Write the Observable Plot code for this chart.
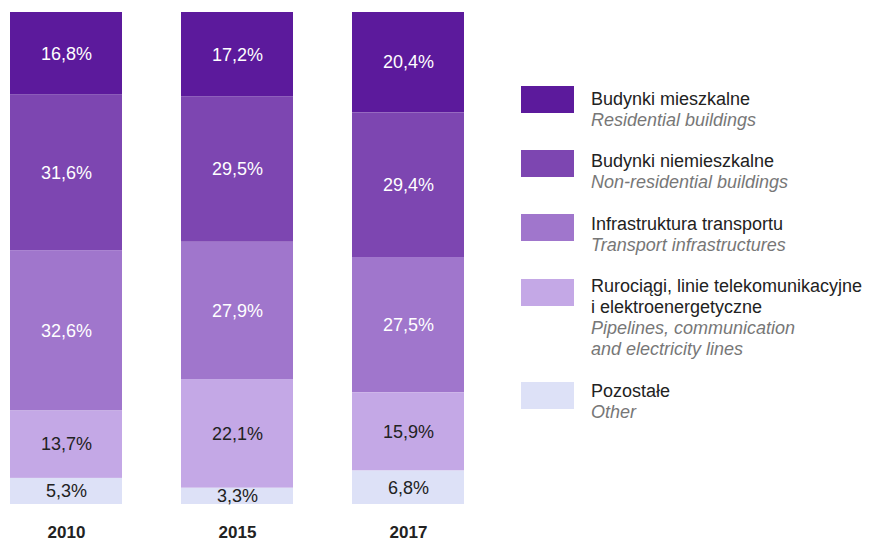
<!DOCTYPE html>
<html>
<head>
<meta charset="utf-8">
<script src="https://cdn.jsdelivr.net/npm/d3@7"></script>
<script src="https://cdn.jsdelivr.net/npm/@observablehq/plot@0.6"></script>
<style>
  html, body { margin: 0; padding: 0; background: #fff; }
  body { width: 875px; height: 542px; position: relative; overflow: hidden; font-family: "Liberation Sans", Arial, sans-serif; }
  #chart { position: absolute; left: 0; top: 0; }
  .sw { position: absolute; left: 521px; width: 53px; height: 27px; }
  .txt { position: absolute; left: 591px; font-size: 18px; line-height: 21px; color: #222; white-space: nowrap; }
  .txt .en { font-style: italic; color: #777; }
</style>
</head>
<body>
<div id="chart"></div>
<div id="legend"></div>
<script>
const years = ["2010", "2015", "2017"];
const categories = ["Budynki mieszkalne", "Budynki niemieszkalne", "Infrastruktura transportu", "Rurociągi, linie telekomunikacyjne\ni elektroenergetyczne", "Pozostałe"];
const categoriesEn = ["Residential buildings", "Non-residential buildings", "Transport infrastructures", "Pipelines, communication\nand electricity lines", "Other"];
const colors = ["#5c1a9c", "#7d46b1", "#a076cc", "#c4a8e6", "#dde1f7"];
const labelColors = ["#ffffff", "#ffffff", "#ffffff", "#222222", "#222222"];

const residential    = [16.8, 17.2, 20.4];
const nonResidential = [31.6, 29.5, 29.4];
const transport      = [32.6, 27.9, 27.5];
const pipelines      = [13.7, 22.1, 15.9];
const other          = [5.3, 3.3, 6.8];
const series = [residential, nonResidential, transport, pipelines, other];

const data = [];
categories.forEach((c, i) => years.forEach((y, j) => data.push({year: y, cat: c, value: series[i][j], idx: i})));

const fmt = v => v.toFixed(1).replace(".", ",") + "%";
const order = [...categories].reverse();

const plot = Plot.plot({
  width: 875,
  height: 542,
  marginTop: 12,
  marginBottom: 38,
  marginLeft: 9,
  marginRight: 875 - 464,
  x: {domain: years, paddingInner: 0.347, paddingOuter: 0, label: null},
  y: {domain: [0, 100], axis: null},
  color: {domain: categories, range: colors},
  style: {fontFamily: "'Liberation Sans', Arial, sans-serif", background: "transparent"},
  marks: [
    Plot.barY(data, Plot.stackY({x: "year", y: "value", z: "cat", fill: "cat", order, inset: 0})),
    Plot.text(data, Plot.stackY({x: "year", y: "value", z: "cat", order, text: d => fmt(d.value), fill: d => labelColors[d.idx], fontSize: 18})),
    Plot.axisX({tickSize: 0, tickPadding: 21, fontSize: 17, fontWeight: "bold", fill: "#222", label: null})
  ]
});
document.getElementById("chart").appendChild(plot);

const swTops = [86, 150, 214, 279, 382];
const txtTops = [89, 151, 214, 276, 381];
const leg = document.getElementById("legend");
categories.forEach((c, i) => {
  const sw = document.createElement("div");
  sw.className = "sw";
  sw.style.top = swTops[i] + "px";
  sw.style.background = colors[i];
  leg.appendChild(sw);
  const t = document.createElement("div");
  t.className = "txt";
  t.style.top = txtTops[i] + "px";
  const pl = document.createElement("div");
  pl.innerHTML = c.split("\n").join("<br>");
  const en = document.createElement("div");
  en.className = "en";
  en.innerHTML = categoriesEn[i].split("\n").join("<br>");
  t.appendChild(pl); t.appendChild(en);
  leg.appendChild(t);
});
</script>
</body>
</html>
